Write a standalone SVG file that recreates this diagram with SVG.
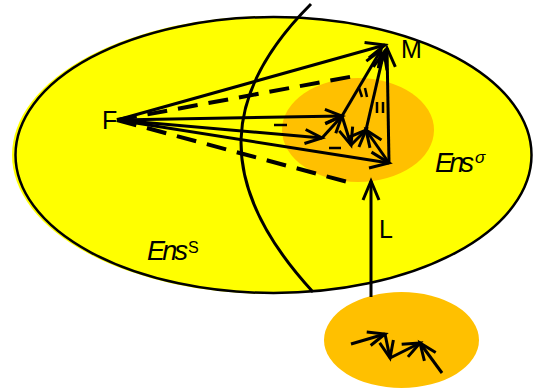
<svg xmlns="http://www.w3.org/2000/svg" width="538" height="388" viewBox="0 0 538 388">
<style>
.ln{stroke:#000;stroke-width:3;fill:none;stroke-linecap:butt}
.a{marker-end:url(#ah)}
.s{marker-end:url(#ahs)}
.dash{stroke:#000;stroke-width:4;fill:none;stroke-dasharray:20 11}
.tick{stroke:#000;stroke-width:2.5}
.lbl{font-family:"Liberation Sans",Arial,sans-serif;font-size:25px;fill:#000}
.ens{font-family:"Liberation Sans",Arial,sans-serif;font-size:27px;font-style:italic;fill:#000}
</style>
<defs>
<marker id="ah" viewBox="-22 -11 26 22" refX="0" refY="0" markerWidth="26" markerHeight="22" markerUnits="userSpaceOnUse" orient="auto" overflow="visible">
<path d="M-19,-8 L0,0 L-19,8" fill="none" stroke="#000" stroke-width="3"/>
</marker>
<marker id="ahs" viewBox="-20 -10 24 20" refX="0" refY="0" markerWidth="24" markerHeight="20" markerUnits="userSpaceOnUse" orient="auto" overflow="visible">
<path d="M-17,-7 L0,0 L-17,7" fill="none" stroke="#000" stroke-width="3"/>
</marker>
</defs>

<g id="ensS">
<ellipse cx="271" cy="155" rx="259" ry="139" fill="#FFFF00"/>
<ellipse cx="273.5" cy="155" rx="258" ry="138" fill="#FFFF00" stroke="#000" stroke-width="2.5"/>
<text class="ens" x="147" y="260" textLength="41">Ens</text>
<text x="188" y="253" font-family="Liberation Sans,Arial,sans-serif" font-size="16" fill="#000">S</text>
</g>

<g id="ensSigma">
<ellipse cx="358" cy="130" rx="76" ry="52" fill="#FFC000"/>
<text class="ens" x="435" y="172" textLength="39">Ens</text>
<text x="475" y="163" font-family="Liberation Sans,Arial,sans-serif" font-size="17" font-style="italic" fill="#000">σ</text>
</g>

<g id="source">
<ellipse cx="401.5" cy="340" rx="77.5" ry="48" fill="#FFC000"/>
</g>

<g id="boundary">
<path class="ln" d="M311,4 C225,90 210,180 313,292" stroke-width="2.5"/>
</g>

<g id="labels">
<text class="lbl" x="102" y="129">F</text>
<text class="lbl" x="401" y="58">M</text>
<text class="lbl" x="379" y="238">L</text>
</g>

<g id="connectors">
<line class="dash" x1="117" y1="120" x2="360" y2="75"/>
<line class="dash" x1="117" y1="120" x2="355" y2="184"/>
<line class="ln a" x1="117" y1="120" x2="385" y2="45"/>
<line class="ln s" x1="117" y1="120" x2="342" y2="116"/>
<line class="ln s" x1="117" y1="120" x2="322" y2="138"/>
<line class="ln a" x1="117" y1="120" x2="389" y2="163"/>
<line class="ln s" x1="322" y1="138" x2="342" y2="116"/>
<line class="ln s" x1="342" y1="116" x2="351" y2="145"/>
<line class="ln s" x1="351" y1="145" x2="366" y2="130"/>
<line class="ln s" x1="389" y1="163" x2="366" y2="130"/>
<line class="ln s" x1="342" y1="116" x2="381" y2="50"/>
<line class="ln s" x1="366" y1="130" x2="384" y2="52"/>
<line class="ln a" x1="389" y1="163" x2="387" y2="48"/>
<line class="tick" x1="359" y1="88" x2="362" y2="97"/>
<line class="tick" x1="365" y1="88" x2="367" y2="97"/>
<line class="tick" x1="377" y1="102" x2="377" y2="113"/>
<line class="tick" x1="383" y1="102" x2="383" y2="113"/>
<line class="tick" x1="274" y1="125" x2="287" y2="125"/>
<line class="tick" x1="329" y1="148" x2="341" y2="148"/>
<line class="ln a" x1="371" y1="297" x2="371" y2="181"/>
<line class="ln s" x1="351" y1="344" x2="385" y2="334" stroke-width="3.5"/>
<line class="ln s" x1="385" y1="334" x2="390" y2="358" stroke-width="3.5"/>
<line class="ln s" x1="390" y1="358" x2="420" y2="343" stroke-width="3.5"/>
<line class="ln s" x1="442" y1="373" x2="420" y2="343" stroke-width="3.5"/>
</g>
</svg>
